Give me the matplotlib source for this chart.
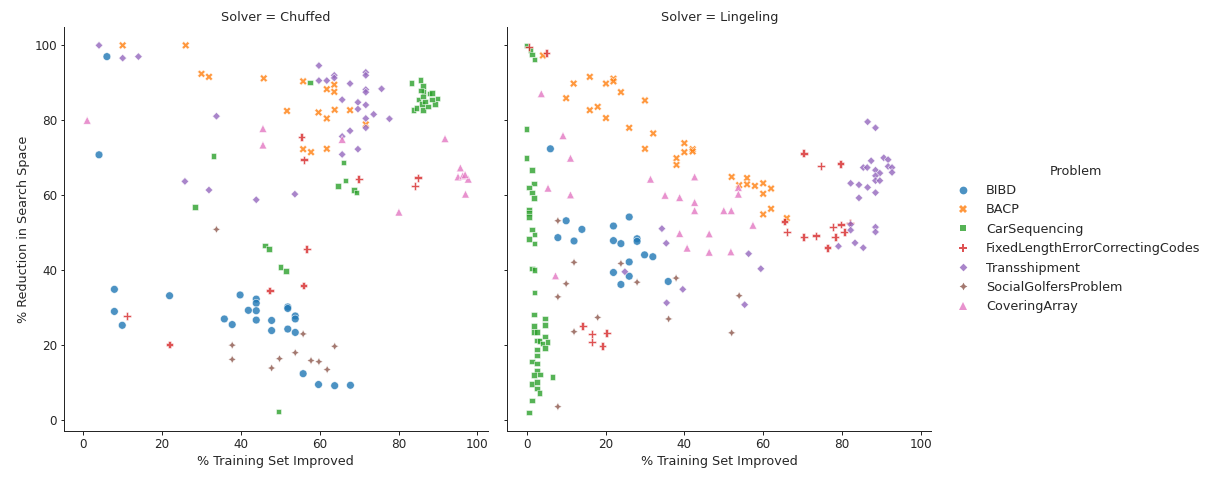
import numpy as np
import pandas as pd
import matplotlib
matplotlib.use("Agg")
import matplotlib.pyplot as plt
import seaborn as sns

problems = ["BIBD", "BACP", "CarSequencing", "FixedLengthErrorCorrectingCodes",
            "Transshipment", "SocialGolfersProblem", "CoveringArray"]
solvers = ["Chuffed", "Lingeling"]

# ---------------- Chuffed ----------------
ch_bibd_x = [6, 4, 7.9, 21.9, 39.8, 43.9, 43.9, 7.9, 9.9, 41.9, 43.9, 35.8, 37.8, 43.9, 47.8, 47.8,
             51.9, 51.9, 53.8, 53.8, 51.9, 53.8, 55.8, 59.7, 63.8, 67.8]
ch_bibd_y = [97, 70.8, 34.9, 33.2, 33.4, 32.3, 31.2, 29.0, 25.3, 29.3, 29.2, 27.0, 25.5, 26.7, 26.6, 23.9,
             30.2, 29.8, 27.8, 27.0, 24.3, 23.4, 12.4, 9.5, 9.2, 9.3]

ch_bacp_x = [10, 26, 30, 31.9, 45.8, 55.8, 63.7, 61.8, 63.7, 51.7, 59.7, 63.8, 67.7, 61.8, 71.7,
             55.8, 57.8, 61.8]
ch_bacp_y = [100, 100, 92.4, 91.6, 91.2, 90.4, 89.5, 88.3, 87.6, 82.5, 82.1, 82.8, 82.7, 80.5, 78.9,
             72.3, 71.5, 72.4]

ch_car_x = [57.6, 33.1, 28.4, 66, 66.5, 64.6, 68.7, 69.3, 46.1, 47.1, 50.1, 51.4, 49.5,
            83.3, 85.6, 86.2, 86.3, 87.8, 88.5, 89.9, 85.1, 86.2, 83.8, 84.6, 86.2, 87.5, 89.2,
            86.0, 86.7, 88.5, 85.7]
ch_car_y = [90.1, 70.5, 56.9, 68.8, 63.9, 62.5, 61.4, 60.7, 46.6, 45.7, 40.8, 39.8, 2.3,
            90.0, 90.7, 89.1, 87.5, 87.1, 87.3, 85.8, 85.6, 86.3, 82.8, 83.3, 82.8, 83.7, 84.3,
            84.3, 85.0, 85.5, 88.0]

ch_flecc_x = [55.4, 56.0, 69.9, 84.9, 84.2, 56.7, 47.3, 55.9, 11.1, 21.9]
ch_flecc_y = [75.5, 69.5, 64.3, 64.7, 62.5, 45.7, 34.6, 35.9, 27.8, 20.2]

ch_trans_x = [4, 10, 14, 33.8, 25.8, 31.9, 43.9, 59.8, 59.8, 61.8, 63.7, 63.7, 67.7, 71.7, 71.7,
              71.7, 71.7, 75.7, 65.7, 69.7, 69.7, 71.7, 73.7, 77.7, 71.7, 71.7, 67.7, 65.7,
              69.7, 65.7, 53.7]
ch_trans_y = [100, 96.6, 97, 81.1, 63.7, 61.4, 58.8, 94.6, 90.6, 90.6, 92.0, 91.3, 89.8, 92.8, 92.0,
              88.2, 87.5, 88.4, 85.5, 84.8, 83.0, 84.1, 81.6, 80.4, 80.5, 78.0, 77.2, 75.7,
              72.3, 70.9, 60.3]

ch_sgp_x = [33.8, 37.8, 37.8, 47.8, 49.8, 55.8, 63.8, 53.8, 57.8, 59.8, 61.9]
ch_sgp_y = [50.9, 20.0, 16.2, 13.9, 16.4, 23.0, 19.7, 18.0, 15.9, 15.6, 13.5]

ch_cov_x = [1, 45.6, 45.6, 65.7, 91.8, 95.7, 95.1, 96.3, 97.7, 96.9, 97.0, 80.1]
ch_cov_y = [80, 77.8, 73.4, 74.9, 75.1, 67.3, 64.9, 65.2, 64.3, 65.5, 60.3, 55.5]

# ---------------- Lingeling ----------------
li_bibd_x = [6.0, 10.0, 14.0, 22.0, 26.0, 7.9, 12.0, 22.0, 23.9, 28.0, 28.0, 29.9, 32.0, 26.0,
             22.0, 26.0, 23.9, 35.9]
li_bibd_y = [72.4, 53.2, 50.9, 51.8, 54.2, 48.7, 47.8, 47.9, 47.1, 48.4, 47.7, 44.1, 43.6, 42.2,
             39.4, 38.4, 36.2, 37.0]

li_bacp_x = [4.1, 11.9, 16.0, 20.1, 22.0, 22.0, 23.9, 10.0, 30.0, 16.0, 18.0, 20.1, 26.0, 32.1,
             30.0, 40.0, 40.0, 42.1, 42.1, 38.0, 38.0, 52.0, 55.9, 55.9, 53.9, 57.9, 60.0, 60.0,
             62.0, 62.0, 60.0, 66.0]
li_bacp_y = [97.3, 89.8, 91.6, 89.8, 91.1, 90.4, 87.5, 85.9, 85.3, 82.7, 83.6, 80.6, 78.0, 76.5,
             72.4, 73.9, 71.5, 72.3, 71.7, 69.9, 68.1, 64.9, 64.6, 62.9, 62.7, 62.5, 63.2, 60.4,
             61.8, 56.4, 54.9, 53.9]

li_car_x = [0, 1.0, 1.3, 2.0, 0, 0, 1.3, 1.9, 0.6, 1.3, 1.9, 0.6, 0.6, 0.6, 1.3, 2.0, 0.6, 2.0,
            1.3, 2.0, 2.0, 1.9, 4.6, 1.9, 4.6, 1.9, 2.6, 4.6, 2.6, 3.2, 5.3, 4.0, 4.6, 2.6, 2.6,
            1.3, 2.6, 2.6, 1.9, 3.4, 6.6, 1.3, 2.6, 2.6, 3.2, 1.3, 0.6]
li_car_y = [99.9, 98.7, 97.6, 96.2, 77.7, 70.0, 66.7, 63.1, 62.1, 60.7, 59.3, 56.2, 55.3, 54.2,
            50.8, 49.6, 48.3, 47.1, 40.4, 40.0, 34.1, 28.2, 27.1, 25.1, 25.4, 23.5, 23.5, 22.3,
            21.2, 21.1, 20.9, 20.4, 19.3, 18.8, 17.3, 15.6, 15.1, 13.2, 12.0, 12.2, 11.5, 9.6,
            10.2, 8.4, 7.3, 5.2, 2.0]

li_flecc_x = [0.6, 5.0, 14.2, 16.6, 20.3, 16.6, 19.2, 70.3, 74.7, 79.6, 65.4, 77.7, 79.7, 82.0,
              66.0, 70.3, 73.4, 78.3, 80.6, 76.3]
li_flecc_y = [99.6, 98.0, 25.1, 23.0, 23.3, 20.9, 19.8, 71.2, 67.8, 68.4, 53.0, 51.5, 52.2, 52.6,
              50.2, 48.9, 49.2, 48.9, 50.2, 46.0]

li_trans_x = [34.3, 35.4, 24.9, 39.6, 35.5, 86.5, 88.5, 87.4, 90.6, 91.7, 85.4, 86.4, 91.7, 92.7,
              88.5, 89.6, 92.7, 88.5, 88.5, 89.6, 82.2, 84.3, 86.5, 88.5, 84.3, 82.2, 82.2, 88.5,
              88.5, 79.1, 83.3, 85.4, 56.3, 59.4, 55.3]
li_trans_y = [51.1, 47.2, 39.6, 34.9, 31.3, 79.6, 78.0, 69.2, 70.0, 69.5, 67.4, 67.4, 67.7, 67.4,
              66.7, 65.9, 66.1, 65.2, 63.9, 63.9, 63.2, 62.8, 62.1, 60.7, 59.3, 52.2, 50.7, 51.5,
              50.2, 46.4, 47.3, 46.0, 44.4, 40.4, 30.8]

li_sgp_x = [7.9, 23.9, 28.0, 37.9, 36.0, 12.0, 10.0, 7.9, 18.0, 12.0, 7.9, 53.9, 52.0]
li_sgp_y = [53.2, 41.8, 36.8, 37.9, 27.0, 42.1, 36.4, 32.9, 27.4, 23.6, 3.6, 33.2, 23.3]

li_cov_x = [3.7, 9.2, 11.1, 5.4, 11.1, 31.4, 42.6, 35.1, 38.8, 42.6, 42.6, 38.8, 46.3, 40.7, 46.3,
            7.3, 53.7, 53.7, 50.0, 51.9, 57.4, 51.8]
li_cov_y = [87.1, 75.9, 69.9, 61.9, 60.1, 64.3, 64.9, 60.0, 59.4, 58.1, 55.9, 49.8, 49.7, 45.9, 44.8,
            38.5, 62.1, 60.3, 55.9, 55.9, 52.0, 44.9]

series = {
    "Chuffed": [(ch_bibd_x, ch_bibd_y), (ch_bacp_x, ch_bacp_y), (ch_car_x, ch_car_y),
                (ch_flecc_x, ch_flecc_y), (ch_trans_x, ch_trans_y), (ch_sgp_x, ch_sgp_y),
                (ch_cov_x, ch_cov_y)],
    "Lingeling": [(li_bibd_x, li_bibd_y), (li_bacp_x, li_bacp_y), (li_car_x, li_car_y),
                  (li_flecc_x, li_flecc_y), (li_trans_x, li_trans_y), (li_sgp_x, li_sgp_y),
                  (li_cov_x, li_cov_y)],
}

rows = []
for solver in solvers:
    for prob, (xs, ys) in zip(problems, series[solver]):
        for x, y in zip(xs, ys):
            rows.append({"Solver": solver, "Problem": prob,
                         "% Training Set Improved": x,
                         "% Reduction in Search Space": y})
df = pd.DataFrame(rows)

sns.set_style("ticks")
plt.rcParams["font.family"] = ["DejaVu Sans"]
plt.rcParams.update({
    "font.size": 13,
    "axes.labelsize": 12.8,
    "axes.titlesize": 12.5,
    "xtick.labelsize": 12,
    "ytick.labelsize": 12,
    "legend.fontsize": 12.7,
    "legend.title_fontsize": 12.7,
    "axes.linewidth": 1.0,
    "xtick.major.width": 1.0,
    "ytick.major.width": 1.0,
    "text.color": "#262626",
    "axes.labelcolor": "#262626",
    "xtick.color": "#262626",
    "ytick.color": "#262626",
})

g = sns.relplot(data=df, x="% Training Set Improved", y="% Reduction in Search Space",
                hue="Problem", style="Problem", hue_order=problems, style_order=problems,
                col="Solver", col_order=solvers, kind="scatter", alpha=0.8,
                palette="tab10", s=60)

W, H = 1214, 478
fig = g.figure
fig.set_size_inches(W / 72, H / 72)
fig.subplots_adjust(left=64 / W, right=931 / W, bottom=47 / H, top=451 / H, wspace=20 / 424)
for ax in g.axes.flat:
    ax.set_xticks([0, 20, 40, 60, 80, 100])
    ax.set_yticks([0, 20, 40, 60, 80, 100])
sns.move_legend(g, "center left", bbox_to_anchor=(939 / W, 0.5), frameon=False)

fig.savefig("out.png", dpi=72)
